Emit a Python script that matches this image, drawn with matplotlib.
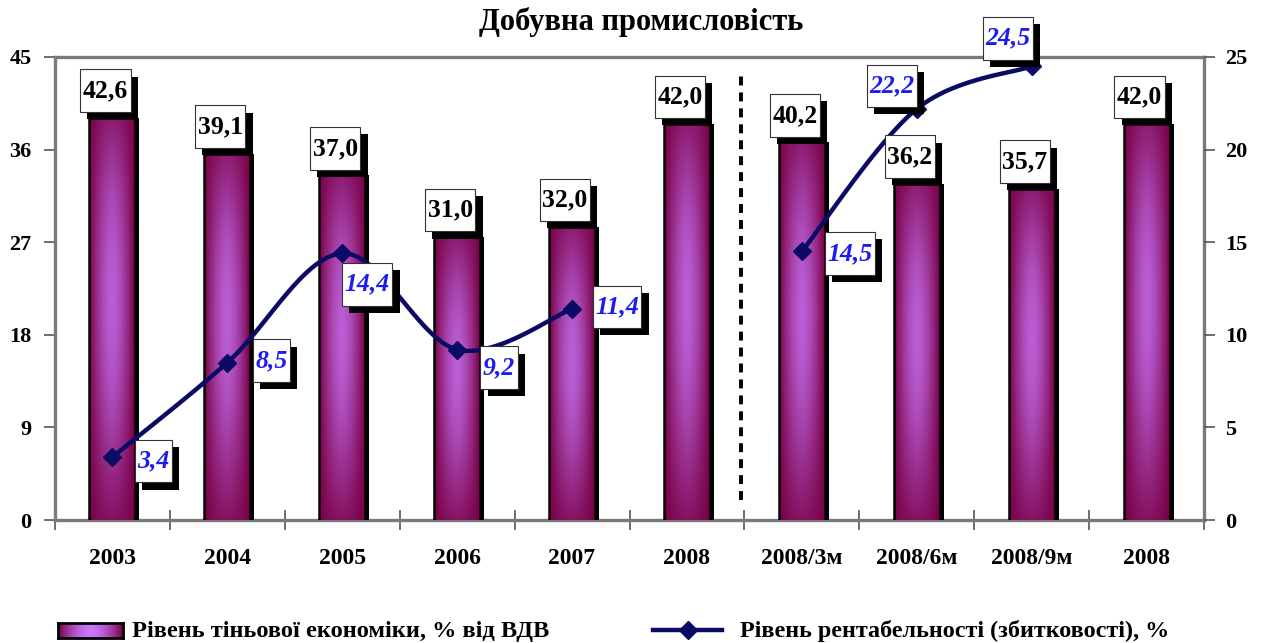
import numpy as np
import matplotlib
matplotlib.use("Agg")
import matplotlib.pyplot as plt
from matplotlib.patches import Rectangle
from matplotlib.lines import Line2D
from matplotlib.path import Path
from matplotlib.transforms import offset_copy
import matplotlib.patheffects as pe

# ---------------- data ----------------
categories = ["2003", "2004", "2005", "2006", "2007", "2008",
              "2008/3м", "2008/6м", "2008/9м", "2008"]
shadow_economy = [42.6, 39.1, 37.0, 31.0, 32.0, 42.0, 40.2, 36.2, 35.7, 42.0]
profitability = [3.4, 8.5, 14.4, 9.2, 11.4, np.nan, 14.5, 22.2, 24.5, np.nan]
left_ticks = [0, 9, 18, 27, 36, 45]
right_ticks = [0, 5, 10, 15, 20, 25]
title = "Добувна промисловість"
legend_bar = "Рівень тіньової економіки, % від ВДВ"
legend_line = "Рівень рентабельності (збитковості), %"

# ---------------- style ----------------
W, H = 1263, 643
SERIF = ["Liberation Serif", "DejaVu Serif"]
plt.rcParams["font.family"] = SERIF
plt.rcParams["font.weight"] = "bold"
NAVY = "#0b0b66"
LBLUE = "#1c1cf0"
DARK = np.array([0.47, 0.0, 0.27])
LIGHT = np.array([0.80, 0.47, 0.99])
BAR_BASE = 3.5          # visual base of the bar scale (bars start below the frame)
BAR_W = 0.40

fig = plt.figure(figsize=(W / 100, H / 100), dpi=100)
ax = fig.add_axes([55 / W, (643 - 520) / H, (1204 - 55) / W, (520 - 57) / H])
axb = ax.twinx()
axr = ax.twinx()

n = len(categories)
x = np.arange(n)


def bar_gradient(nx=60, ny=120):
    u = np.linspace(0, 1, nx)
    t = np.linspace(0, 1, ny)[:, None]            # 0 bottom .. 1 top
    h = 1 - np.abs(2 * u - 1) ** 1.6
    v = np.clip(np.sin(np.pi * (0.15 + 0.75 * t)) ** 1.2, 0, 1) * (0.25 + 0.75 * t ** 0.5)
    f = (h[None, :] * v)[..., None]
    img = DARK + (LIGHT - DARK) * f
    return img[::-1]


grad = bar_gradient()
shadow_tr = offset_copy(axb.transData, fig=fig, x=4, y=0, units="dots")
for i, v in enumerate(shadow_economy):
    axb.add_patch(Rectangle((i - BAR_W / 2, BAR_BASE - 1), BAR_W, v - BAR_BASE + 1,
                            transform=shadow_tr, fc="black", ec="none", zorder=1))
    axb.imshow(grad, extent=[i - BAR_W / 2, i + BAR_W / 2, BAR_BASE - 1, v],
               aspect="auto", zorder=2, interpolation="bilinear")
    axb.add_patch(Rectangle((i - BAR_W / 2, BAR_BASE - 1), BAR_W, v - BAR_BASE + 1,
                            fc="none", ec="black", lw=1.8, zorder=3))

axb.set_xlim(-0.5, n - 0.5)
axb.set_ylim(BAR_BASE, BAR_BASE + 45)
axb.set_yticks([])
axb.axis("off")


# smoothed line (Excel-style Bezier smoothing through the data points)
def smooth(xs, ys, steps=30):
    px, py = [], []
    m = len(xs)
    for k in range(m - 1):
        p0 = np.array([xs[max(k - 1, 0)], ys[max(k - 1, 0)]])
        p1 = np.array([xs[k], ys[k]])
        p2 = np.array([xs[k + 1], ys[k + 1]])
        p3 = np.array([xs[min(k + 2, m - 1)], ys[min(k + 2, m - 1)]])
        c1 = p1 + (p2 - p0) / 6
        c2 = p2 - (p3 - p1) / 6
        tt = np.linspace(0, 1, steps)[:, None]
        b = ((1 - tt) ** 3) * p1 + 3 * ((1 - tt) ** 2) * tt * c1 + 3 * (1 - tt) * tt ** 2 * c2 + tt ** 3 * p2
        px.extend(b[:, 0]); py.extend(b[:, 1])
    return px, py


prof = np.array(profitability, dtype=float)
segs, cur = [], []
for i, v in enumerate(prof):
    if np.isnan(v):
        if cur:
            segs.append(cur); cur = []
    else:
        cur.append(i)
if cur:
    segs.append(cur)
for s in segs:
    sx, sy = smooth(list(x[s]), list(prof[s]))
    axr.plot(sx, sy, color=NAVY, lw=3.2, zorder=5, solid_capstyle="round")
axr.plot(x, prof, ls="none", marker="D", ms=9, color=NAVY, zorder=6)
axr.set_ylim(0, 25)
axr.set_xlim(-0.5, n - 0.5)
axr.set_yticks(right_ticks)
axr.set_yticklabels([str(t) for t in right_ticks], fontsize=16, fontweight="bold")
axr.tick_params(axis="y", direction="out", length=8, width=1.2, pad=7, colors="#555555",
                labelcolor="black")
for sp in axr.spines.values():
    sp.set_visible(False)

# main axis
ax.set_xlim(-0.5, n - 0.5)
ax.set_ylim(0, 45)
ax.set_yticks(left_ticks)
ax.set_yticklabels([str(t) for t in left_ticks], fontsize=16, fontweight="bold")
ax.tick_params(axis="y", direction="out", length=8, width=1.2, pad=9, colors="#555555",
               labelcolor="black")
ax.set_xticks(x)
ax.set_xticklabels(categories, fontsize=17, fontweight="bold")
ax.tick_params(axis="x", which="major", length=0, pad=20)
ax.set_xticks(np.arange(n + 1) - 0.5, minor=True)
ax.tick_params(axis="x", which="minor", direction="inout", length=14, width=1.2, colors="#555555")
for sp in ax.spines.values():
    sp.set_color("#7a7a7a")
    sp.set_linewidth(2.4)

# dashed separator
ax.plot([5.47, 5.47], [1.9, 43.7], color="black", lw=2.8, ls=(0, (2.3, 1.8)), zorder=4)


# label box: narrow side padding, taller top/bottom padding
def tall_box(x0, y0, width, height, mutation_size):
    px = 0.10 * mutation_size
    py = 0.38 * mutation_size
    x0, y0, x1, y1 = x0 - px, y0 - py, x0 + width + px, y0 + height + py
    return Path([(x0, y0), (x1, y0), (x1, y1), (x0, y1), (x0, y0)], closed=True)


def boxed(text, xy, xycoords, off, color, style):
    t = axr.annotate(text, xy, xytext=off, xycoords=xycoords, textcoords="offset pixels",
                     ha="center", va="center", fontsize=18.5, fontweight="bold", fontstyle=style,
                     color=color, annotation_clip=False, zorder=8,
                     bbox=dict(boxstyle=tall_box, fc="white", ec="#333333", lw=0.8))
    t.get_bbox_patch().set_path_effects([
        pe.SimplePatchShadow(offset=(5.2, -5.2), shadow_rgbFace="black", alpha=1.0),
        pe.Normal()])


for i, v in enumerate(shadow_economy):
    boxed(f"{v:.1f}".replace(".", ","), (i, v), axb.transData, (-7, 27), "black", "normal")

line_offsets = [(41, -4), (44, 2), (25, -31), (42, -18), (45, 2), None, (48, -2), (-25, 23), (-24, 28)]
for i, v in enumerate(profitability):
    if np.isnan(v):
        continue
    boxed(f"{v:.1f}".replace(".", ","), (i, v), axr.transData, line_offsets[i], LBLUE, "italic")

# title
fig.text(641 / W, 1 - 22 / H, title, ha="center", va="center", fontsize=22, fontweight="bold")

# legend
lax = fig.add_axes([58 / W, (643 - 638) / H, 65 / W, 15 / H])
u = np.linspace(0, 1, 100)
hh = 1 - np.abs(2 * u - 1) ** 1.6
sw = DARK + (LIGHT - DARK) * hh[:, None]
lax.imshow(sw[None, :, :], aspect="auto", interpolation="bilinear")
lax.set_xticks([]); lax.set_yticks([])
for sp in lax.spines.values():
    sp.set_color("black"); sp.set_linewidth(2)
fig.text(132 / W, 1 - 631 / H, legend_bar, ha="left", va="center", fontsize=17.6, fontweight="bold")
fig.add_artist(Line2D([653 / W, 722 / W], [1 - 630 / H, 1 - 630 / H], transform=fig.transFigure,
                      color=NAVY, lw=3.2))
fig.add_artist(Line2D([688 / W], [1 - 630 / H], transform=fig.transFigure, color=NAVY,
                      marker="D", ms=9, ls="none"))
fig.text(740 / W, 1 - 631 / H, legend_line, ha="left", va="center", fontsize=17.4, fontweight="bold")

fig.savefig("out.png", dpi=100)
